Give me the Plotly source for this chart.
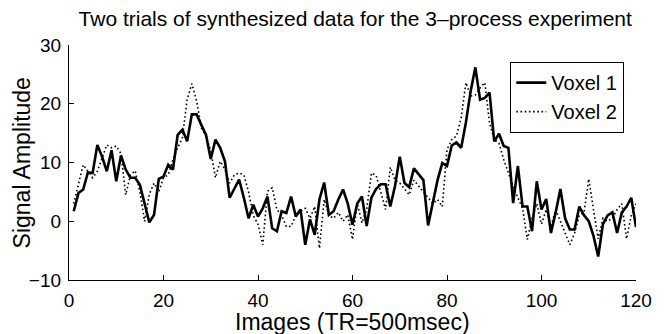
import plotly.graph_objects as go

images = list(range(1, 121))

voxel1 = [1.7, 4.8, 5.4, 8.3, 8.2, 13.0, 11.0, 8.5, 12.1, 6.8,
          11.2, 8.8, 7.4, 7.4, 6.2, 3.1, -0.2, 1.1, 7.2, 7.6,
          9.6, 8.8, 14.7, 15.6, 13.6, 18.2, 18.2, 16.4, 14.7, 10.6,
          13.9, 12.5, 10.2, 4.0, 5.7, 7.1, 4.0, 0.5, 2.8, 0.8,
          2.2, 4.2, -1.2, -1.7, 1.7, 1.4, 4.2, 0.8, 2.0, -4.0,
          0.3, -2.3, 3.7, 6.6, 1.1, 1.7, 3.7, 5.4, 3.0, -0.6,
          3.0, 4.2, -0.8, 4.0, 5.5, 6.3, 6.3, 2.5, 6.0, 11.0,
          6.5, 5.8, 9.0, 8.0, 7.0, -0.7, 3.0, 7.0, 9.9, 9.4,
          12.9, 13.4, 12.5, 16.8, 22.1, 26.2, 20.7, 21.0, 21.9, 13.6,
          14.9, 12.8, 12.5, 3.1, 9.4, 2.5, 2.5, -1.7, 6.8, 2.0,
          3.8, -2.0, 1.5, 5.5, 0.5, -1.4, -1.4, 2.5, 1.0, 0.0,
          -2.5, -6.0, -0.5, 1.0, 1.5, -2.0, 1.5, 2.5, 4.0, -1.0]

voxel2 = [3.0, 6.5, 9.6, 8.5, 7.4, 8.5, 10.8, 13.0, 12.5, 12.8,
          11.5, 4.5, 7.9, 8.6, 5.0, 0.0, 4.6, 6.5, 5.0, 7.4,
          7.9, 10.5, 12.5, 14.2, 20.7, 23.4, 20.5, 15.9, 14.5, 12.0,
          7.4, 10.2, 8.8, 6.5, 7.9, 8.2, 7.9, 5.0, 1.0, -0.5,
          -4.0, 5.1, 5.7, 2.0, 1.0, -0.9, -0.9, 1.0, 1.7, 2.2,
          0.5, 2.5, -4.6, 3.7, 1.0, 0.5, 1.5, 0.0, 1.1, -3.1,
          3.1, -0.3, 2.0, 8.2, 7.8, 4.8, 2.0, 9.2, 7.0, 6.5,
          5.5, 4.5, 7.0, 6.0, 5.0, 4.2, 3.0, 3.7, 2.5, 12.2,
          13.9, 14.5, 17.6, 23.6, 21.3, 21.5, 22.7, 23.6, 16.7, 13.9,
          13.3, 10.5, 8.2, 5.9, 4.0, 2.2, -3.1, 0.5, 3.0, -0.5,
          2.0, -0.9, 2.0, 0.0, -2.0, -4.0, -2.0, 1.0, 1.5, 7.2,
          2.0, -3.0, 0.5, 0.0, 0.5, 2.0, 3.0, -3.0, 1.0, 3.0]

x_ticks = [0, 20, 40, 60, 80, 100, 120]
y_ticks = [-10, 0, 10, 20, 30]

FONT = "Liberation Sans, Arial, Helvetica, sans-serif"

fig = go.Figure()
fig.add_trace(go.Scatter(x=images, y=voxel1, mode="lines", name="Voxel 1",
                         line=dict(color="black", width=2.6)))
fig.add_trace(go.Scatter(x=images, y=voxel2, mode="lines", name="Voxel 2",
                         line=dict(color="black", width=1.6, dash="1.6px,2.6px")))

fig.update_layout(
    width=664, height=334,
    margin=dict(l=69, r=20, t=45, b=54),
    paper_bgcolor="white", plot_bgcolor="white",
    font=dict(family=FONT, size=18, color="black"),
    title=dict(text="Two trials of synthesized data for the 3\u2013process experiment",
               x=0.535, xanchor="center", y=0.945, yanchor="middle",
               font=dict(size=21, family=FONT, color="black")),
    showlegend=True,
    legend=dict(x=0.979, y=0.928, xanchor="right", yanchor="top",
                bgcolor="white", bordercolor="black", borderwidth=1.2,
                font=dict(size=20, family=FONT, color="black"),
                tracegroupgap=0, itemwidth=30),
    annotations=[
        dict(text="Images (TR=500msec)", xref="paper", yref="paper",
             x=0.5, y=-0.178, xanchor="center", yanchor="middle",
             showarrow=False, font=dict(size=23, family=FONT, color="black")),
        dict(text="Signal Amplitude", xref="paper", yref="paper",
             x=-0.083, y=0.5, xanchor="center", yanchor="middle", textangle=-90,
             showarrow=False, font=dict(size=23, family=FONT, color="black")),
    ],
)

fig.update_xaxes(range=[0, 120], tickvals=x_ticks, ticktext=[str(v) for v in x_ticks],
                 showline=True, linecolor="black", linewidth=1.3,
                 ticks="inside", ticklen=5, tickcolor="black", tickwidth=1.2,
                 showgrid=False, zeroline=False, mirror=False,
                 ticklabelstandoff=3,
                 tickfont=dict(size=19, family=FONT))
fig.update_yaxes(range=[-10, 30], tickvals=y_ticks,
                 ticktext=[str(v).replace("-", "\u2212") for v in y_ticks],
                 showline=True, linecolor="black", linewidth=1.3,
                 ticks="inside", ticklen=5, tickcolor="black", tickwidth=1.2,
                 showgrid=False, zeroline=False, mirror=False,
                 ticklabelstandoff=3,
                 tickfont=dict(size=19, family=FONT))

fig.write_html("out.html")
